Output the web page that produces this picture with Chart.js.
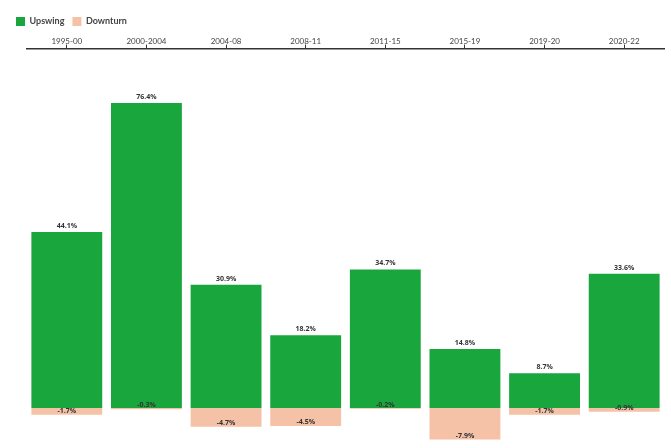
<!DOCTYPE html>
<html>
<head>
<meta charset="utf-8">
<script src="https://cdn.jsdelivr.net/npm/chart.js@4"></script>
<style>
html,body{margin:0;padding:0;background:#fff;}
#wrap{width:671px;height:448px;}
</style>
</head>
<body>
<div id="wrap"><canvas id="c" width="671" height="448"></canvas></div>
<script>
const categories = ["1995-00","2000-2004","2004-08","2008-11","2011-15","2015-19","2019-20","2020-22"];
const upswing = [44.1, 76.4, 30.9, 18.2, 34.7, 14.8, 8.7, 33.6];
const downturn = [-1.7, -0.3, -4.7, -4.5, -0.2, -7.9, -1.7, -0.9];

const labelPlugin = {
  id: 'barLabels',
  afterDatasetsDraw(chart) {
    const ctx = chart.ctx;
    ctx.save();
    ctx.font = 'bold 7px "Open Sans"';
    ctx.fillStyle = '#333';
    ctx.textAlign = 'center';
    ctx.textBaseline = 'middle';
    chart.data.datasets.forEach((ds, di) => {
      const meta = chart.getDatasetMeta(di);
      meta.data.forEach((bar, i) => {
        const v = ds.data[i];
        const txt = v.toFixed(1) + '%';
        if (di === 0) {
          ctx.fillText(txt, bar.x, bar.y - 6);
        } else {
          ctx.fillText(txt, bar.x, bar.y - 4);
        }
      });
    });
    ctx.restore();
  }
};

new Chart(document.getElementById('c'), {
  type: 'bar',
  data: {
    labels: categories,
    datasets: [
      { label: 'Upswing', data: upswing, backgroundColor: '#19a63c', barPercentage: 0.89, categoryPercentage: 1 },
      { label: 'Downturn', data: downturn, backgroundColor: '#f6c2a7', barPercentage: 0.89, categoryPercentage: 1 }
    ]
  },
  options: {
    responsive: false,
    animation: false,
    layout: { padding: { left: 8, right: 7, top: 9, bottom: 0 } },
    plugins: {
      legend: {
        position: 'top',
        align: 'start',
        labels: {
          boxWidth: 9, boxHeight: 9,
          padding: 8,
          color: '#444',
          font: { family: 'Lato', size: 9, weight: 'bold' }
        }
      },
      tooltip: { enabled: false }
    },
    scales: {
      x: {
        position: 'top',
        stacked: true,
        grid: { drawOnChartArea: false, drawTicks: true, tickLength: 4, offset: false, color: '#333' },
        border: { display: true, color: '#333', width: 1.5 },
        ticks: { color: '#444', padding: -2, font: { family: 'Lato', size: 8 } },
        afterFit(scale) { scale.height += 3; }
      },
      y: {
        display: true,
        stacked: true,
        min: -10,
        max: 90,
        grid: { display: false },
        border: { display: false },
        ticks: { display: false },
        afterFit(scale) { scale.width = 19; }
      }
    }
  },
  plugins: [labelPlugin]
});
</script>
</body>
</html>
